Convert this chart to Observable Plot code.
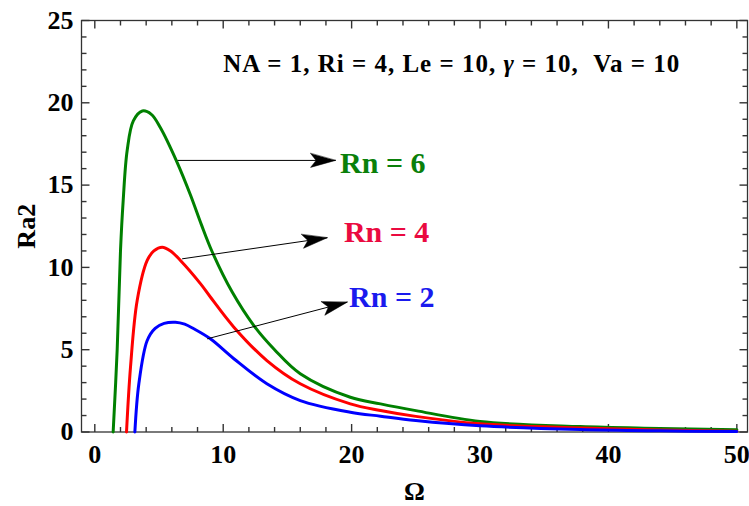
<!DOCTYPE html>
<html>
<head>
<meta charset="utf-8">
<script src="https://cdn.jsdelivr.net/npm/d3@7"></script>
<script src="https://cdn.jsdelivr.net/npm/@observablehq/plot@0.6"></script>
<style>
  html, body { margin: 0; padding: 0; background: #fff; }
  #chart { width: 749px; height: 506px; }
</style>
</head>
<body>
<div id="chart"></div>
<script>
// ---- data ----
const omegaRn6 = [1.43, 1.74, 2.0, 2.21, 2.52, 3.0, 3.7, 4.4, 5.1, 6.4, 7.45, 8.3, 9.14, 10.7, 12.4, 14.0, 16.0, 19.9, 22.25, 25, 30, 37.8, 44, 50];
const ra2Rn6   = [0, 4.95, 11.0, 14.06, 17.1, 18.9, 19.5, 19.3, 18.5, 16.4, 14.4, 12.6, 10.95, 8.5, 6.45, 5.0, 3.54, 2.11, 1.71, 1.3, 0.64, 0.33, 0.22, 0.13];

const omegaRn4 = [2.47, 2.78, 3.3, 4.08, 4.6, 5.25, 5.9, 6.67, 8.24, 9.0, 10.83, 13.4, 16.0, 19.9, 22.25, 25, 30, 37.8, 44, 50];
const ra2Rn4   = [0, 3.94, 7.99, 10.42, 11.0, 11.23, 11.0, 10.42, 9.0, 8.2, 6.37, 4.34, 2.93, 1.71, 1.31, 0.95, 0.5, 0.25, 0.12, 0.05];

const omegaRn2 = [3.12, 3.43, 4.08, 4.7, 5.4, 6.28, 7.0, 7.71, 9.0, 10.83, 13.4, 16.0, 19.9, 22.25, 25, 30, 37.8, 44, 50];
const ra2Rn2   = [0, 2.93, 5.56, 6.3, 6.6, 6.67, 6.55, 6.27, 5.66, 4.45, 2.93, 1.91, 1.2, 0.96, 0.7, 0.38, 0.15, 0.07, 0.03];

const seriesNames  = ["Rn = 6", "Rn = 4", "Rn = 2"];
const curveColors  = ["#008000", "#ff0000", "#0000ff"];
const labelColors  = ["#0a800a", "#ea0a40", "#1a1aee"];

// annotation arrows (data coordinates)
const arrowX1 = [6.45, 6.8, 8.75];
const arrowY1 = [16.5, 10.52, 5.66];
const arrowX2 = [18.75, 18.1, 19.66];
const arrowY2 = [16.5, 11.8, 7.89];
const labelX  = [19.1, 19.4, 19.8];
const labelY  = [16.3, 12.14, 8.19];

const paramText = "NA = 1, Ri = 4, Le = 10, γ = 10,  Va = 10";
const paramX = 27.8, paramY = 22.33;

const xTicksMajor = [0, 10, 20, 30, 40, 50];
const xTicksMinor = d3.range(0, 51, 2);
const yTicksMajor = [0, 5, 10, 15, 20, 25];
const yTicksMinor = d3.range(0, 26, 1);
const xLabel = "Ω";
const yLabel = "Ra2";

// ---- layout ----
const W = 749, H = 506;
const mL = 81, mR = 2, mT = 20, mB = 74.5;
const xDomain = [-1.036, 50.83];
const yDomain = [0, 25];

const omegas = [omegaRn6, omegaRn4, omegaRn2];
const ras = [ra2Rn6, ra2Rn4, ra2Rn2];
const lineData = [];
seriesNames.forEach((s, i) => omegas[i].forEach((x, j) => lineData.push({x, y: ras[i][j], s})));

// replicated scales: arrowhead screen angles and tick lengths
const sx = d3.scaleLinear().domain(xDomain).range([mL, W - mR]);
const sy = d3.scaleLinear().domain(yDomain).range([H - mB, mT]);
const arrows = arrowX1.map((x1, i) => {
  const dx = sx(arrowX2[i]) - sx(x1);
  const dy = sy(arrowY2[i]) - sy(arrowY1[i]);
  return {x1, y1: arrowY1[i], x2: arrowX2[i], y2: arrowY2[i], rot: Math.atan2(dx, -dy) * 180 / Math.PI};
});
const labels = seriesNames.map((s, i) => ({s, x: labelX[i], y: labelY[i], c: labelColors[i]}));

const majX = sx.invert(mL + 8) - xDomain[0], minX = sx.invert(mL + 5) - xDomain[0];
const majY = sy.invert(H - mB - 8) - yDomain[0], minY = sy.invert(H - mB - 5) - yDomain[0];

const tickRows = [];
xTicksMinor.forEach(v => {
  const L = xTicksMajor.includes(v) ? majY : minY;
  tickRows.push({x1: v, x2: v, y1: yDomain[0], y2: yDomain[0] + L});
  tickRows.push({x1: v, x2: v, y1: yDomain[1], y2: yDomain[1] - L});
});
yTicksMinor.forEach(v => {
  const L = yTicksMajor.includes(v) ? majX : minX;
  tickRows.push({x1: xDomain[0], x2: xDomain[0] + L, y1: v, y2: v});
  tickRows.push({x1: xDomain[1], x2: xDomain[1] - L, y1: v, y2: v});
});

const notchHead = {
  draw(context, l, r) {
    context.moveTo(0, -l);
    context.lineTo(r, 0);
    context.lineTo(0, -l * 0.22);
    context.lineTo(-r, 0);
    context.closePath();
  }
};

const frameColor = "#333";

function build(headShape) {
  return Plot.plot({
    width: W, height: H,
    marginLeft: mL, marginRight: mR, marginTop: mT, marginBottom: mB,
    x: {domain: xDomain, label: null},
    y: {domain: yDomain, label: null},
    style: {fontFamily: "'Liberation Serif', 'Times New Roman', serif", fontWeight: "bold", background: "#fff", color: "#000"},
    marks: [
      Plot.frame({stroke: frameColor, fill: "none", strokeWidth: 1.3}),
      Plot.link(tickRows, {x1: "x1", x2: "x2", y1: "y1", y2: "y2", stroke: "#333", strokeWidth: 1.4}),
      Plot.axisX(xTicksMajor, {anchor: "bottom", tickSize: 0, tickPadding: 13, fontSize: 26, fontWeight: "bold", label: null}),
      Plot.axisY(yTicksMajor, {anchor: "left", tickSize: 0, tickPadding: 8, fontSize: 26, fontWeight: "bold", label: null}),
      Plot.text([yLabel], {frameAnchor: "left", dx: -55, rotate: -90, textAnchor: "middle", lineAnchor: "middle", fontSize: 26, fontWeight: "bold"}),
      Plot.text([xLabel], {frameAnchor: "bottom", dy: 60, textAnchor: "middle", lineAnchor: "middle", fontSize: 26, fontWeight: "bold"}),
      Plot.line(lineData, {x: "x", y: "y", z: "s", stroke: d => curveColors[seriesNames.indexOf(d.s)], strokeWidth: 3, curve: "catmull-rom"}),
      Plot.link(arrows, {x1: "x1", y1: "y1", x2: "x2", y2: "y2", stroke: "#000", strokeWidth: 1}),
      Plot.vector(arrows, {x: "x2", y: "y2", rotate: "rot", length: 25, r: 7, anchor: "end", shape: headShape, fill: "#000", stroke: "#000", strokeWidth: 0.5}),
      Plot.text(labels, {x: "x", y: "y", text: "s", fill: "c", textAnchor: "start", fontSize: 30, fontWeight: "bold"}),
      Plot.text([paramText], {x: paramX, y: paramY, textAnchor: "middle", fontSize: 25, fontWeight: "bold"})
    ]
  });
}

let chart;
try { chart = build(notchHead); } catch (e) { chart = build("spike"); }
document.getElementById("chart").appendChild(chart);

// italicize gamma in the parameter line
chart.querySelectorAll("text").forEach(t => {
  if (t.textContent === paramText && t.children.length === 0) {
    const parts = paramText.split("γ");
    t.textContent = "";
    t.setAttribute("letter-spacing", "1");
    t.style.whiteSpace = "pre";
    const ns = "http://www.w3.org/2000/svg";
    const a = document.createElementNS(ns, "tspan"); a.textContent = parts[0];
    const g = document.createElementNS(ns, "tspan"); g.textContent = "γ"; g.setAttribute("font-style", "italic");
    const b = document.createElementNS(ns, "tspan"); b.textContent = parts[1];
    t.append(a, g, b);
  }
});
</script>
</body>
</html>
